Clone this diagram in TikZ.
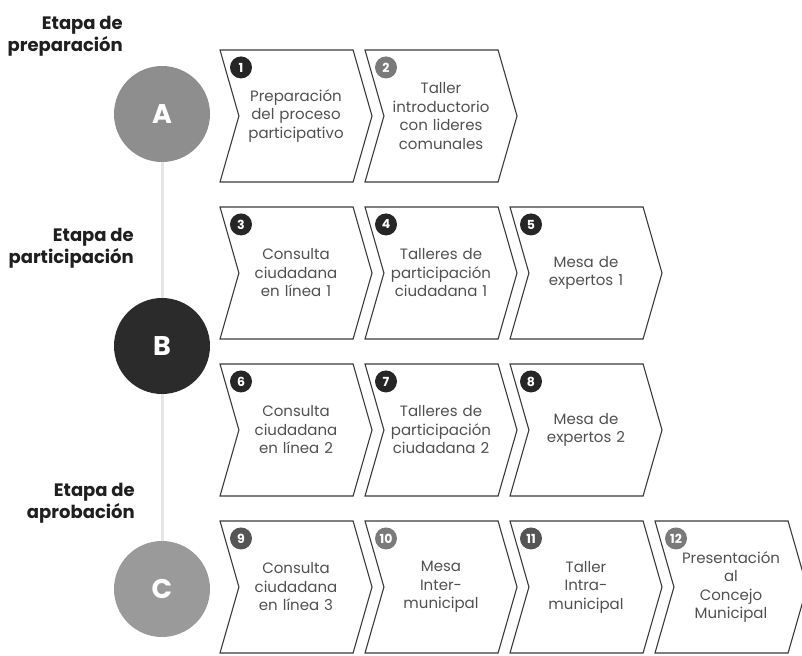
\documentclass[tikz,border=0pt]{standalone}
\usepackage{fontspec}
\setmainfont{Poppins}
\usetikzlibrary{backgrounds,positioning,shapes.symbols}
\definecolor{borde}{HTML}{3A3A3A}
\definecolor{texto}{HTML}{505050}
\definecolor{etapaA}{HTML}{8E8E8E}
\definecolor{etapaB}{HTML}{2B2B2B}
\definecolor{etapaC}{HTML}{9A9A9A}
\definecolor{oscuro}{HTML}{262626}
\definecolor{medio}{HTML}{555555}
\definecolor{claro}{HTML}{7A7A7A}
\definecolor{eje}{HTML}{E6E6E6}
\tikzstyle{paso}=[
	signal,
	signal from=west,
	signal to=east,
	signal pointer angle=148,
	draw=borde,
	line width=1.1pt,
	minimum width=152,
	minimum height=132,
	inner sep=0,
	text width=114,
	align=center,
	text=texto,
	font=\fontsize{15}{18.5}\selectfont]
\tikzstyle{num}=[
	circle,
	inner sep=0,
	minimum size=22,
	text=white,
	font=\bfseries\fontsize{12.5}{12.5}\selectfont]
\tikzstyle{etapa}=[
	circle,
	minimum size=96,
	text=white,
	font=\bfseries\fontsize{27}{27}\selectfont]
\tikzstyle{titulo}=[
	anchor=east,
	align=right,
	inner sep=0,
	text=black!88,
	font=\bfseries\fontsize{18}{22}\selectfont]

\begin{document}
\begin{tikzpicture}[x=1pt,y=1pt]
	\useasboundingbox (0,0) rectangle (802,-655);
	\clip (0,0) rectangle (802,-655);
	% etapas
	\node[etapa,fill=etapaA] (A) at (162,-114) {A};
	\node[etapa,fill=etapaB] (B) at (162,-346) {B};
	\node[etapa,fill=etapaC] (C) at (162,-589) {C};
	\node[titulo] (tA) at (123,-36) {Etapa de\\preparación};
	\node[titulo] (tB) at (134,-248) {Etapa de\\participación};
	\node[titulo] (tC) at (135,-503) {Etapa de\\aprobación};
	\begin{scope}[on background layer]
		\draw[eje,line width=3pt] (A) -- (C);
	\end{scope}
	% pasos
	\node[paso] (p1) at (296,-116) {Preparación\\del proceso\\participativo};
	\node[paso] (p2) at (441,-116) {Taller\\introductorio\\con lideres\\comunales};
	\node[paso] (p3) at (296,-273) {Consulta\\ciudadana\\en línea 1};
	\node[paso] (p4) at (441,-273) {Talleres de\\participación\\ciudadana 1};
	\node[paso] (p5) at (586,-273) {Mesa de\\expertos 1};
	\node[paso] (p6) at (296,-430) {Consulta\\ciudadana\\en línea 2};
	\node[paso] (p7) at (441,-430) {Talleres de\\participación\\ciudadana 2};
	\node[paso] (p8) at (586,-430) {Mesa de\\expertos 2};
	\node[paso] (p9) at (296,-587) {Consulta\\ciudadana\\en línea 3};
	\node[paso] (p10) at (441,-587) {Mesa\\Inter-\\municipal};
	\node[paso] (p11) at (586,-587) {Taller\\Intra-\\municipal};
	\node[paso] (p12) at (731,-587) {Presentación\\al\\Concejo\\Municipal};
	% numeros
	\node[num,fill=oscuro] (n1) at ([xshift=-55,yshift=-18]p1.north) {1};
	\node[num,fill=claro] (n2) at ([xshift=-55,yshift=-18]p2.north) {2};
	\node[num,fill=oscuro] (n3) at ([xshift=-55,yshift=-18]p3.north) {3};
	\node[num,fill=oscuro] (n4) at ([xshift=-55,yshift=-18]p4.north) {4};
	\node[num,fill=oscuro] (n5) at ([xshift=-55,yshift=-18]p5.north) {5};
	\node[num,fill=oscuro] (n6) at ([xshift=-55,yshift=-18]p6.north) {6};
	\node[num,fill=oscuro] (n7) at ([xshift=-55,yshift=-18]p7.north) {7};
	\node[num,fill=oscuro] (n8) at ([xshift=-55,yshift=-18]p8.north) {8};
	\node[num,fill=medio] (n9) at ([xshift=-55,yshift=-18]p9.north) {9};
	\node[num,fill=claro] (n10) at ([xshift=-55,yshift=-18]p10.north) {10};
	\node[num,fill=medio] (n11) at ([xshift=-55,yshift=-18]p11.north) {11};
	\node[num,fill=claro] (n12) at ([xshift=-55,yshift=-18]p12.north) {12};
\end{tikzpicture}
\end{document}
